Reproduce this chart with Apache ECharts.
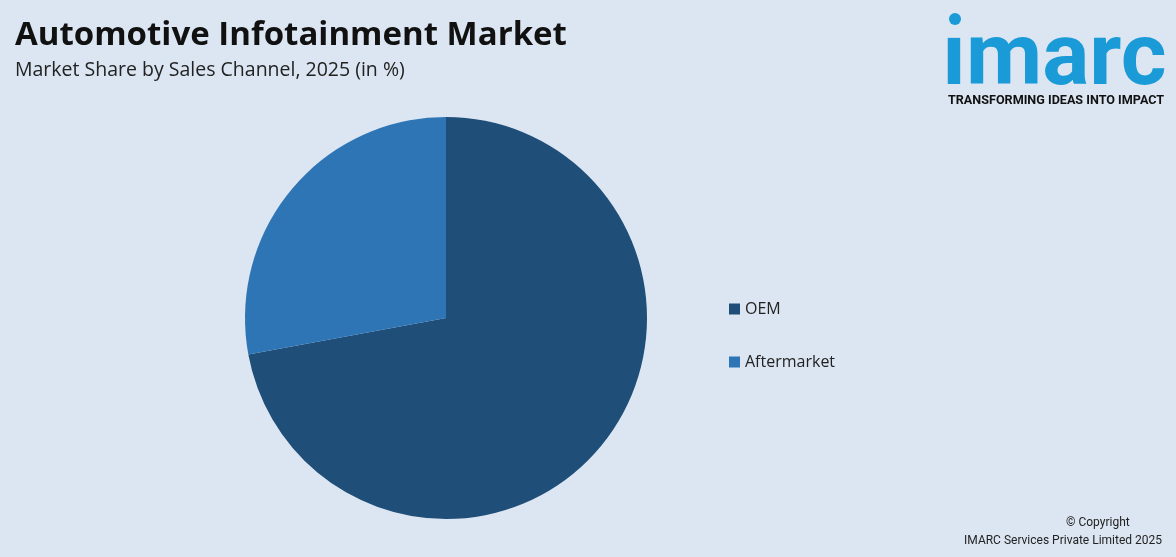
<!DOCTYPE html>
<html>
<head>
<meta charset="utf-8">
<script src="https://cdn.jsdelivr.net/npm/echarts@6/dist/echarts.min.js"></script>
<style>
html,body{margin:0;padding:0;background:#dce6f2;}
#chart{width:1176px;height:557px;}
</style>
</head>
<body>
<div id="chart"></div>
<script>
var categories = ['OEM', 'Aftermarket'];
var shares = [72.1, 27.9];
var colors = ['#1f4e79', '#2e75b6'];

var chart = echarts.init(document.getElementById('chart'));
var option = {
    backgroundColor: '#dce6f2',
    animation: false,
    title: {
        text: 'Automotive Infotainment Market',
        subtext: 'Market Share by Sales Channel, 2025 (in %)',
        left: 10, top: 14,
        itemGap: 8,
        textStyle: {fontFamily: 'Open Sans', fontWeight: 'bold', fontSize: 33, color: '#111'},
        subtextStyle: {fontFamily: 'Open Sans', fontSize: 19.5, color: '#222'}
    },
    graphic: [
        {type: 'circle', shape: {cx: 955, cy: 19, r: 6}, style: {fill: '#1a9ad6'}},
        {type: 'text', left: 942, top: 18, style: {text: 'ımarc', font: 'bold 88px Roboto', fill: '#1a9ad6'}},
        {type: 'text', left: 948, top: 94, style: {text: 'TRANSFORMING IDEAS INTO IMPACT', font: 'bold 12.6px Roboto', fill: '#111'}},
        {type: 'text', x: 1066, top: 517, style: {text: '© Copyright', font: '12px Roboto', fill: '#222', align: 'center'}},
        {type: 'text', right: 14, top: 535, style: {text: 'IMARC Services Private Limited 2025', font: '12px Roboto', fill: '#222'}}
    ],
    legend: {
        orient: 'vertical',
        left: 723, top: 296,
        itemWidth: 11, itemHeight: 11,
        itemGap: 37,
        icon: 'rect',
        textStyle: {fontFamily: 'Open Sans', fontSize: 16, color: '#222'},
        data: categories
    },
    series: [{
        type: 'pie',
        center: [446, 318],
        radius: 201,
        startAngle: 90,
        clockwise: true,
        label: {show: false},
        labelLine: {show: false},
        itemStyle: {borderColor: 'rgba(0,0,0,0)'},
        data: categories.map(function (c, i) {
            return {name: c, value: shares[i], itemStyle: {color: colors[i]}};
        })
    }]
};
chart.setOption(option);
</script>
</body>
</html>
